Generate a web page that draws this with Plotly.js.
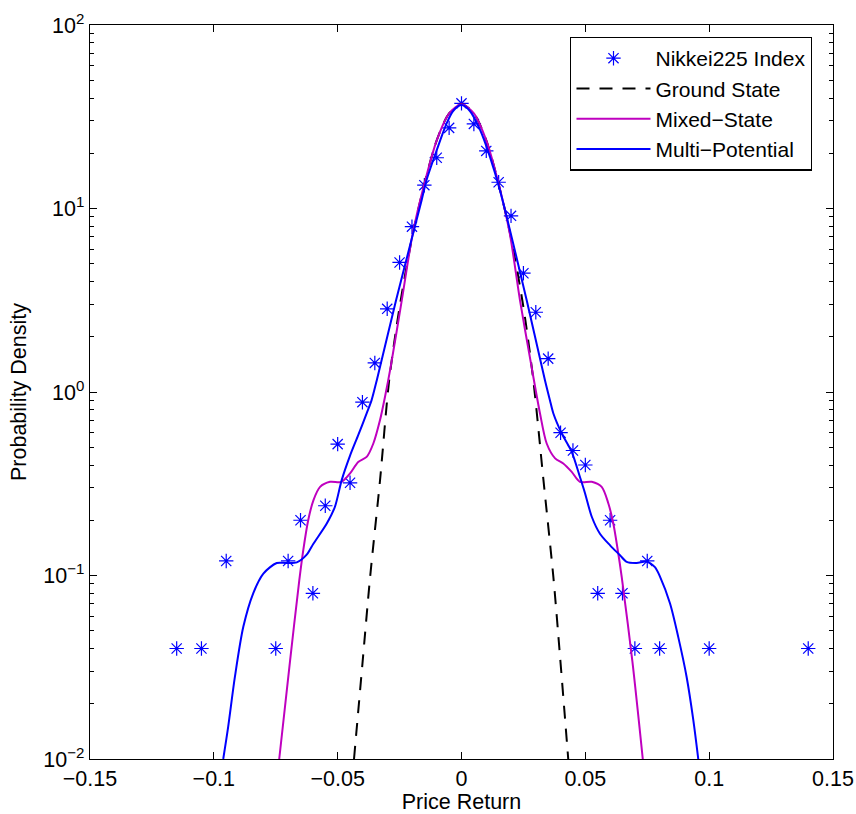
<!DOCTYPE html>
<html>
<head>
<meta charset="utf-8">
<script src="https://cdn.plot.ly/plotly-3.0.1.min.js"></script>
<style>html,body{margin:0;padding:0;background:#fff;}#chart{width:856px;height:814px;}</style>
</head>
<body>
<div id="chart"></div>
<script>
// Nikkei225 empirical density (stars)
const nikkeiX = [-0.115,-0.105,-0.095,-0.075,-0.07,-0.065,-0.06,-0.055,-0.05,-0.045,-0.04,-0.035,-0.03,-0.025,-0.02,-0.015,-0.01,-0.005,0,0.005,0.01,0.015,0.02,0.025,0.03,0.035,0.04,0.045,0.05,0.055,0.06,0.065,0.07,0.075,0.08,0.1,0.14];
const nikkeiY = [0.04,0.04,0.12,0.04,0.12,0.2,0.08,0.24,0.52,0.32,0.88,1.44,2.84,5.08,7.96,13.4,18.9,27.5,37.4,28.9,20.6,13.9,9.12,4.44,2.72,1.52,0.6,0.48,0.4,0.08,0.2,0.08,0.04,0.12,0.04,0.04,0.04];

// Ground State (dashed black)
const groundX = [-0.0434,-0.040,-0.0369,-0.0329,-0.0292,-0.025,-0.02,-0.015,-0.01,-0.005,0,0.005,0.01,0.015,0.02,0.025,0.029,0.033,0.0371,0.0398,0.0431];
const groundY = [0.01,0.033,0.098,0.33,1.16,2.9,6.9,13.6,23.5,33,37,33,23.5,13.6,6.9,2.9,1.16,0.34,0.098,0.036,0.01];

// Mixed-State (magenta)
const mixedX = [-0.0736,-0.0692,-0.0655,-0.0639,-0.0619,-0.0598,-0.0571,-0.0531,-0.0484,-0.045,-0.0417,-0.0383,-0.0356,-0.0329,-0.0309,-0.0286,-0.0241,-0.0197,-0.015,-0.01,-0.005,0,0.005,0.01,0.015,0.0195,0.0236,0.0283,0.0317,0.0344,0.0378,0.0411,0.0445,0.0478,0.0526,0.0566,0.0593,0.0613,0.0629,0.0647,0.069,0.0732];
const mixedY = [0.01,0.0345,0.094,0.137,0.2,0.257,0.304,0.324,0.324,0.36,0.416,0.443,0.524,0.703,0.94,1.37,3.17,7.3,13.6,23.5,33,37,33,23.5,13.6,7.3,3.17,1.37,0.764,0.524,0.435,0.408,0.367,0.324,0.324,0.304,0.247,0.192,0.143,0.098,0.034,0.01];

// Multi-Potential (blue)
const multiX = [-0.0962,-0.0942,-0.0915,-0.0881,-0.0841,-0.080,-0.0746,-0.0706,-0.0665,-0.0625,-0.0598,-0.0544,-0.0511,-0.0484,-0.045,-0.0417,-0.0383,-0.0363,-0.0342,-0.0264,-0.0161,-0.0141,-0.01,-0.006,-0.0033,0,0.0034,0.0075,0.0115,0.0155,0.0263,0.0337,0.0357,0.0371,0.0405,0.0445,0.0478,0.0499,0.0526,0.0559,0.060,0.064,0.0667,0.0707,0.0748,0.0781,0.0801,0.0842,0.0875,0.0909,0.0936,0.0956];
const multiY = [0.01,0.015,0.028,0.0525,0.08,0.1025,0.117,0.117,0.118,0.13,0.149,0.192,0.237,0.33,0.45,0.582,0.764,0.903,1.16,3.17,11.1,14.3,20.8,29.1,34.1,36.6,34,26.8,19.1,12.6,3.17,1.16,0.903,0.764,0.594,0.472,0.345,0.28,0.209,0.169,0.146,0.129,0.1186,0.117,0.119,0.111,0.099,0.0703,0.0463,0.028,0.0163,0.01];

const xTicks = [-0.15,-0.1,-0.05,0,0.05,0.1,0.15];
const xTickText = ['\u22120.15','\u22120.1','\u22120.05','0','0.05','0.1','0.15'];
const yTicks = [0.01,0.1,1,10,100];
const yTickText = ['10<sup>\u22122</sup>','10<sup>\u22121</sup>','10<sup>0</sup>','10<sup>1</sup>','10<sup>2</sup>'];
const yMinor = [0.02,0.03,0.04,0.05,0.06,0.07,0.08,0.09,0.2,0.3,0.4,0.5,0.6,0.7,0.8,0.9,2,3,4,5,6,7,8,9,20,30,40,50,60,70,80,90];

const FONT = 'Liberation Sans, Arial, Helvetica, sans-serif';
const FS = 21.5;

const traces = [
  {x: nikkeiX, y: nikkeiY, mode: 'markers', name: 'Nikkei225 Index',
   marker: {symbol: 'asterisk-open', size: 12, color: '#0000ff', line: {color: '#0000ff', width: 1.2}}},
  {x: groundX, y: groundY, mode: 'lines', name: 'Ground State',
   line: {color: '#000000', width: 2, dash: '13px,10px', shape: 'spline', smoothing: 0.8}},
  {x: mixedX, y: mixedY, mode: 'lines', name: 'Mixed\u2212State',
   line: {color: '#bf00bf', width: 2, shape: 'spline', smoothing: 0.8}},
  {x: multiX, y: multiY, mode: 'lines', name: 'Multi\u2212Potential',
   line: {color: '#0000ff', width: 2, shape: 'spline', smoothing: 0.8}}
];

const layout = {
  width: 856, height: 814,
  margin: {l: 90, r: 23, t: 25, b: 55},
  paper_bgcolor: '#ffffff', plot_bgcolor: '#ffffff',
  font: {family: FONT, size: FS, color: '#000'},
  showlegend: true,
  legend: {x: 0.972, y: 0.984, xanchor: 'right', yanchor: 'top',
    bgcolor: '#ffffff', bordercolor: '#000000', borderwidth: 1.3,
    itemwidth: 74,
    font: {family: FONT, size: 21, color: '#000'}},
  xaxis: {
    range: [-0.15, 0.15], tickmode: 'array', tickvals: xTicks, ticktext: xTickText,
    ticks: 'inside', ticklen: 7, tickcolor: '#000', tickwidth: 1,
    showline: true, linecolor: '#000', linewidth: 1.3, mirror: 'ticks',
    showgrid: false, zeroline: false,
    tickfont: {family: FONT, size: FS, color: '#000'},
    title: {text: 'Price Return', font: {family: FONT, size: FS, color: '#000'}, standoff: 6}
  },
  yaxis: {
    type: 'log', range: [-2, 2], tickmode: 'array', tickvals: yTicks, ticktext: yTickText,
    ticks: 'inside', ticklen: 7, tickcolor: '#000', tickwidth: 1,
    minor: {tickmode: 'array', tickvals: yMinor, ticks: 'inside', ticklen: 4, tickcolor: '#000', tickwidth: 1, showgrid: false},
    showline: true, linecolor: '#000', linewidth: 1.3, mirror: 'ticks',
    showgrid: false, zeroline: false,
    tickfont: {family: FONT, size: FS, color: '#000'},
    title: {text: 'Probability Density', font: {family: FONT, size: FS, color: '#000'}, standoff: 10}
  }
};

Plotly.newPlot('chart', traces, layout, {displayModeBar: false, staticPlot: true});
</script>
</body>
</html>
